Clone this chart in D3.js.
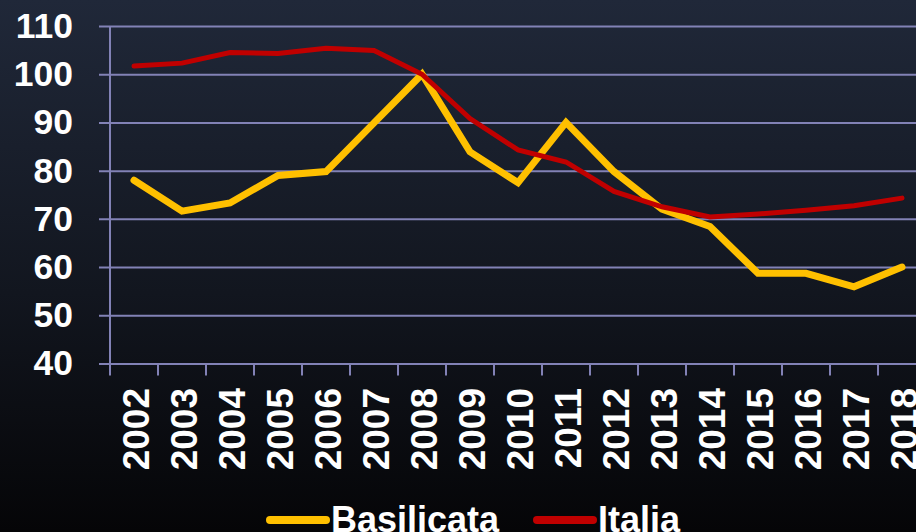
<!DOCTYPE html>
<html>
<head>
<meta charset="utf-8">
<script src="https://cdnjs.cloudflare.com/ajax/libs/d3/7.8.5/d3.min.js"></script>
<style>
  html, body { margin: 0; padding: 0; background: #000; }
  svg { display: block; font-family: "Liberation Sans", Arial, sans-serif; font-weight: bold; }
</style>
</head>
<body>
<svg id="chart" width="916" height="532"></svg>
<script>
var years = ['2002','2003','2004','2005','2006','2007','2008','2009','2010','2011','2012','2013','2014','2015','2016','2017','2018']
var basilicata = [78, 71.6, 73.3, 79, 79.8, 89.9, 100, 83.9, 77.5, 90, 79.8, 72, 68.4, 58.7, 58.7, 55.9, 60]
var italia = [101.7, 102.3, 104.5, 104.3, 105.4, 104.9, 100, 90.8, 84.3, 81.8, 75.7, 72.5, 70.4, 71, 71.8, 72.7, 74.3]
var yTicks = [40, 50, 60, 70, 80, 90, 100, 110]
var series = [
	{name: 'Basilicata', values: basilicata, color: '#ffc000', width: 7},
	{name: 'Italia', values: italia, color: '#c00000', width: 5}
]

var svg = d3.select('#chart'),
	W = 916, H = 532

// background
var grad = svg.append('defs').append('linearGradient')
	.attr('id', 'bg').attr('x1', 0).attr('y1', 0).attr('x2', 0).attr('y2', 1)
grad.append('stop').attr('offset', '0%').attr('stop-color', '#202839')
grad.append('stop').attr('offset', '55%').attr('stop-color', '#12161f')
grad.append('stop').attr('offset', '100%').attr('stop-color', '#050507')
svg.append('rect').attr('width', W).attr('height', H).attr('fill', 'url(#bg)')

var plotLeft = 110, plotTop = 26, plotBottom = 363.5
var x = d3.scaleBand().domain(years).range([plotLeft, plotLeft + years.length * 48]).padding(0)
var y = d3.scaleLinear().domain([40, 110]).range([plotBottom, plotTop])

var gridColor = '#8282b6'

// horizontal grid + y labels
var yg = svg.append('g').attr('transform', 'translate(' + plotLeft + ',0)')
	.call(d3.axisLeft(y).tickValues(yTicks).tickSizeInner(-(W - plotLeft)).tickSizeOuter(0).tickPadding(37))
yg.select('.domain').remove()
yg.selectAll('.tick line').attr('x1', -11).attr('stroke', gridColor).attr('stroke-width', 2)
yg.selectAll('.tick text')
	.attr('fill', '#fff').attr('font-size', 35.5).attr('font-weight', 'bold')
	.attr('font-family', '"Liberation Sans", Arial, sans-serif')

// vertical axis line
svg.append('line')
	.attr('x1', plotLeft).attr('x2', plotLeft).attr('y1', plotTop).attr('y2', plotBottom + 12)
	.attr('stroke', gridColor).attr('stroke-width', 2)

// x tick marks at band boundaries
svg.append('g').selectAll('line')
	.data(years.slice(1))
	.enter()
	.append('line')
	.attr('x1', function(d) {return x(d)})
	.attr('x2', function(d) {return x(d)})
	.attr('y1', plotBottom).attr('y2', plotBottom + 12)
	.attr('stroke', gridColor).attr('stroke-width', 2)

// x labels
svg.append('g').selectAll('text')
	.data(years)
	.enter()
	.append('text')
	.attr('transform', function(d) {
		return 'translate(' + (x(d) + x.bandwidth() / 2 + 2) + ',388) rotate(-90)'
	})
	.attr('text-anchor', 'end')
	.attr('dominant-baseline', 'central')
	.attr('fill', '#fff')
	.attr('font-size', 37)
	.text(function(d) {return d})

// lines
var line = d3.line()
	.x(function(d, i) {return x(years[i]) + x.bandwidth() / 2})
	.y(function(d) {return y(d)})

svg.append('g').selectAll('path')
	.data(series)
	.enter()
	.append('path')
	.attr('d', function(s) {return line(s.values)})
	.attr('fill', 'none')
	.attr('stroke', function(s) {return s.color})
	.attr('stroke-width', function(s) {return s.width})
	.attr('stroke-linecap', 'round')
	.attr('stroke-linejoin', 'miter')

// legend
var legendX = [270, 537]
var lg = svg.append('g').selectAll('g')
	.data(series)
	.enter()
	.append('g')
	.attr('transform', function(s, i) {return 'translate(' + legendX[i] + ',520)'})
lg.append('line')
	.attr('x1', 0).attr('x2', 56).attr('y1', 0).attr('y2', 0)
	.attr('stroke', function(s) {return s.color})
	.attr('stroke-width', 8)
	.attr('stroke-linecap', 'round')
lg.append('text')
	.attr('x', 61).attr('y', 12)
	.attr('fill', '#fff')
	.attr('font-size', 36)
	.text(function(s) {return s.name})
</script>
</body>
</html>
